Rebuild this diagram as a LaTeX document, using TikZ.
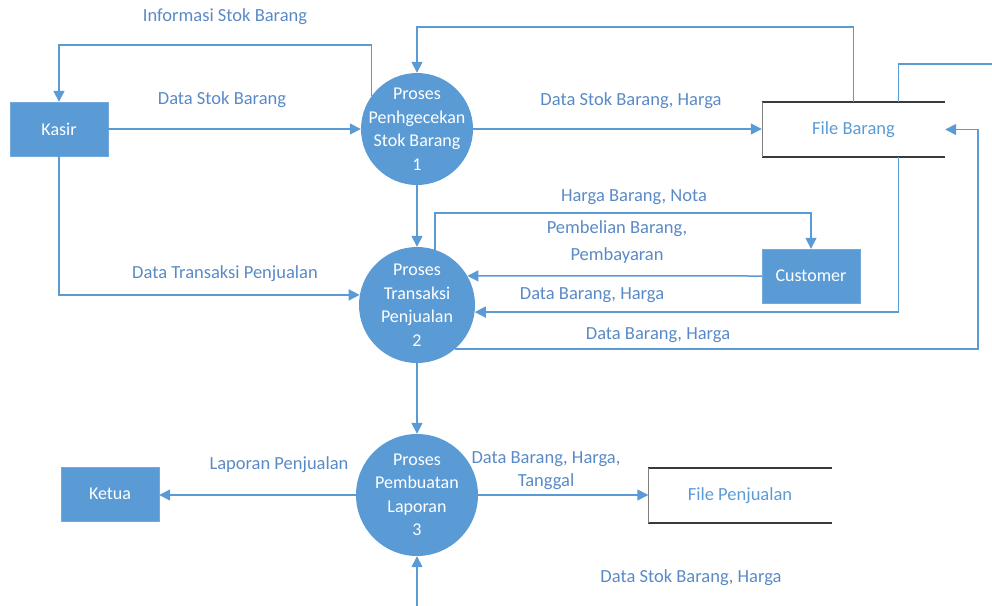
\documentclass[tikz,border=0pt]{standalone}
\usepackage{fontspec}
\setmainfont{Carlito}
\usetikzlibrary{arrows.meta,calc}
\definecolor{dfdblue}{HTML}{5B9BD5}
\definecolor{flowtext}{HTML}{5A8AC6}
\definecolor{storeline}{HTML}{3A3A3A}

\begin{document}
\begin{tikzpicture}[x=1pt,y=-1pt,
  flow/.style={draw=dfdblue, line width=1.5pt, -{Triangle[length=11pt,width=11pt]}},
  plain/.style={draw=dfdblue, line width=1.5pt},
  entity/.style={rectangle, fill=dfdblue, draw=dfdblue!85!white, minimum width=98pt,
    minimum height=54pt, text=white, font=\fontsize{18}{21}\selectfont},
  process/.style={circle, fill=dfdblue, inner sep=0pt, minimum size=#1},
  proctext/.style={text=white, align=center, inner sep=0pt,
    font=\fontsize{18}{23.5}\selectfont},
  store/.style={rectangle, minimum width=183pt, minimum height=55pt, text=dfdblue,
    font=\fontsize{18.5}{21}\selectfont},
  flowlabel/.style={text=flowtext, align=center, font=\fontsize{18.5}{25}\selectfont}]

\useasboundingbox (0,0) rectangle (992,605);

% external entities
\node[entity] (kasir) at (59,129) {Kasir};
\node[entity] (ketua) at (110,494) {Ketua};
\node[entity] (cust) at (811,276) {Customer};

% processes (fixed-size circles, text set on top)
\node[process=112pt, label={[proctext]center:Proses\\Penhgecekan\\Stok Barang\\1}] (p1) at (417,129) {};
\node[process=116pt, label={[proctext]center:Proses\\Transaksi\\Penjualan\\2}] (p2) at (417,305) {};
\node[process=122pt, label={[proctext]center:Proses\\Pembuatan\\Laporan\\3}] (p3) at (417,495) {};

% data stores
\node[store] (fb) at (853.5,129.5) {File Barang};
\node[store] (fp) at (740,495.5) {File Penjualan};
\foreach \s in {fb,fp}{
  \draw[storeline, line width=1.6pt] (\s.north west) -- (\s.north east);
  \draw[storeline, line width=1.6pt] (\s.south west) -- (\s.south east);
  \draw[gray, line width=0.6pt] (\s.north west) -- (\s.south west);
}

% free ends at the picture edge
\coordinate (edgeR) at (996,64);
\coordinate (bottomIn) at (417,610);

% flows around process 1
\draw[flow] (p1.144) |- ($(kasir.north)+(0,-57)$) -- (kasir.north);
\draw[flow] (fb.north) |- ($(p1.north)+(0,-46)$) -- (p1.north);
\draw[flow] (kasir.east) -- (kasir.east -| p1.west);
\draw[flow] (p1.east) -- (p1.east -| fb.west);
\draw[plain] ($(fb.north)+(45,0)$) |- (edgeR);
\draw[flow] (p1.south) -- (p2.north);

% flows around process 2
\draw[flow] (p2.72) |- ($(cust.north)+(0,-36)$) -- (cust.north);
\draw[flow] (cust.west) -- (p2.30);
\draw[flow] ($(fb.south)+(45,0)$) |- (p2.-7);
\draw[flow] (p2.-49) -| ($(fb.east)+(33,0)$) -- (fb.east);
\draw[flow] (kasir.south) |- (p2.170);
\draw[flow] (p2.south) -- (p3.north);

% flows around process 3
\draw[flow] (p3.west) -- (p3.west -| ketua.east);
\draw[flow] (p3.east) -- (p3.east -| fp.west);
\draw[flow] (bottomIn) -- (p3.south);

% flow labels
\node[flowlabel] (l1) at (225,17) {Informasi Stok Barang};
\node[flowlabel] (l2) at (222,100) {Data Stok Barang};
\node[flowlabel] (l3) at (631,101) {Data Stok Barang, Harga};
\node[flowlabel] (l4) at (634,197) {Harga Barang, Nota};
\node[flowlabel, font=\fontsize{18.5}{27}\selectfont] (l5) at (617,242) {Pembelian Barang,\\Pembayaran};
\node[flowlabel] (l6) at (592,295) {Data Barang, Harga};
\node[flowlabel] (l7) at (658,335) {Data Barang, Harga};
\node[flowlabel] (l8) at (225,274) {Data Transaksi Penjualan};
\node[flowlabel] (l9) at (279,465) {Laporan Penjualan};
\node[flowlabel, font=\fontsize{18.5}{23}\selectfont] (l10) at (546,471) {Data Barang, Harga,\\Tanggal};
\node[flowlabel] (l11) at (691,578) {Data Stok Barang, Harga};
\end{tikzpicture}
\end{document}
